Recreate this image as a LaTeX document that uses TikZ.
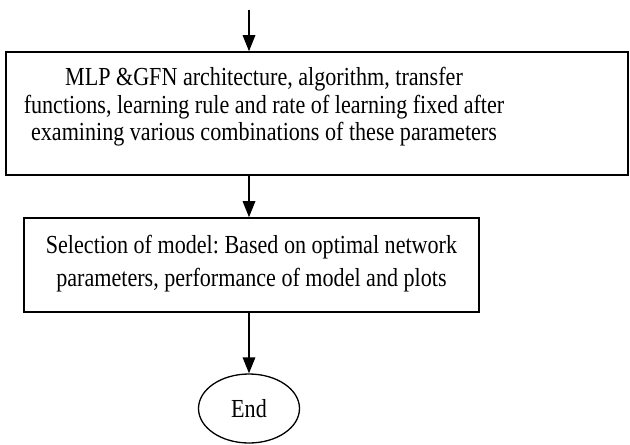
\documentclass[tikz,border=0pt]{standalone}
\usepackage{fontspec}
\setmainfont{Liberation Serif}[FakeStretch=0.85]
\usetikzlibrary{arrows.meta,shapes.geometric}
\frenchspacing
\begin{document}
\begin{tikzpicture}[x=1pt,y=-1pt,
  boxshape/.style={draw, line width=1.6pt, rectangle, inner sep=0pt},
  txtone/.style={align=center, font=\fontsize{26}{27.5}\selectfont, inner sep=0pt},
  txttwo/.style={align=center, font=\fontsize{26}{33}\selectfont, inner sep=0pt},
  endshape/.style={draw, ellipse, line width=1.3pt, inner sep=0pt, font=\fontsize{26}{30}\selectfont},
  flow/.style={line width=1.6pt, -{Triangle[length=16pt,width=12.5pt]}}]
\useasboundingbox (0,0) rectangle (630,445);
\coordinate (start) at (249,10);
\node[boxshape, minimum width=622pt, minimum height=123pt] (b1) at (317,113.5) {};
\node[txtone] (t1) at (264,107) {MLP \&GFN architecture, algorithm, transfer\\functions, learning rule and rate of learning fixed after\\examining various combinations of these parameters};
\node[boxshape, minimum width=455pt, minimum height=94pt] (b2) at (251.5,265) {};
\node[txttwo] (t2) at (251.5,263.3) {Selection of model: Based on optimal network\\parameters, performance of model and plots};
\node[endshape, minimum width=101pt, minimum height=69pt] (end) at (249,408.5) {End};
\draw[flow] (start) -- (start |- b1.north);
\draw[flow] (b1.south -| start) -- (b2.north -| start);
\draw[flow] (b2.south -| start) -- (end.north);
\end{tikzpicture}
\end{document}
